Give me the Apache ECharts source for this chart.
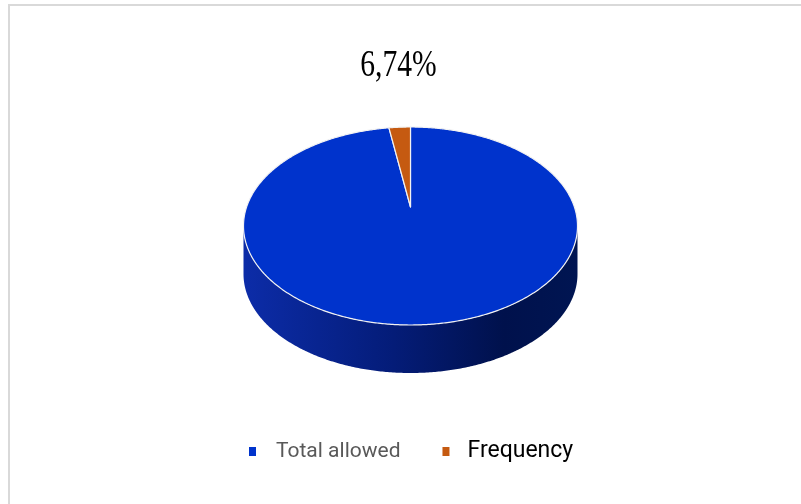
<!DOCTYPE html>
<html>
<head>
<meta charset="utf-8">
<title>Total allowed vs Frequency</title>
<script src="https://cdn.jsdelivr.net/npm/echarts@6/dist/echarts.min.js"></script>
<style>
  html, body { margin: 0; padding: 0; background: #ffffff; }
  #chart { width: 801px; height: 504px; }
</style>
</head>
<body>
<div id="chart"></div>
<script>
// Slice data
const categories = ['Total allowed', 'Frequency'];
const shares = [97.5, 2.5];
const sliceColors = ['#0033cc', '#c55a11'];
const titleText = '6,74%';

// Tilted-disc geometry (perspective projection of a round pie top)
const CX = 410.5, CY = 207;      // projected centre of the disc
const A = 95.35, B = 0.1919;     // vertical scale and perspective factor
const C = 163.9;                 // horizontal scale
const DEPTH = 48;                // thickness of the pie wall
const SIDE_START = 180 - Math.acos(B) * 180 / Math.PI; // left/right silhouette angles
const SIDE_END = 360 - SIDE_START;

const total = shares.reduce((s, v) => s + v, 0);
const offsets = shares.map((_, i) => shares.slice(0, i).reduce((s, v) => s + v, 0));

// angle in degrees, clockwise from 12 o'clock
function project(deg) {
  const r = deg * Math.PI / 180;
  const u = Math.sin(r), v = Math.cos(r), k = 1 + B * v;
  return [CX + C * u / k, CY - A * v / k];
}
function arc(a0, a1) {
  const n = Math.max(2, Math.ceil(Math.abs(a1 - a0) / 0.5));
  const pts = [];
  for (let j = 0; j <= n; j++) pts.push(project(a0 + (a1 - a0) * j / n));
  return pts;
}

function renderSlice(params, api) {
  const i = params.seriesIndex;
  const start = offsets[i] / total * 360;
  const end = start + api.value(0) / total * 360;
  const children = [];

  const s = Math.max(start, SIDE_START), e = Math.min(end, SIDE_END);
  if (s < e) {
    const topEdge = arc(s, e);
    const bottomEdge = topEdge.map(p => [p[0], p[1] + DEPTH]).reverse();
    children.push({
      type: 'polygon',
      z2: 1,
      shape: { points: topEdge.concat(bottomEdge) },
      style: {
        fill: new echarts.graphic.LinearGradient(0, 0, 1, 0, [
          { offset: 0, color: '#0c2ca8' },
          { offset: 0.45, color: '#041c78' },
          { offset: 0.78, color: '#00114c' },
          { offset: 1, color: '#001552' }
        ]),
        stroke: null
      }
    });
  }

  children.push({
    type: 'polygon',
    z2: 5,
    shape: { points: [[CX, CY]].concat(arc(start, end)) },
    style: {
      fill: api.visual('color'),
      stroke: '#f2f2f2',
      lineWidth: 1.2,
      lineJoin: 'round'
    }
  });
  return { type: 'group', children };
}

const chart = echarts.init(document.getElementById('chart'), null, { renderer: 'canvas' });

chart.setOption({
  backgroundColor: '#ffffff',
  animation: false,
  graphic: [
    {
      type: 'rect',
      silent: true,
      shape: { x: 9, y: 5, width: 800, height: 505 },
      style: { fill: null, stroke: '#d9d9d9', lineWidth: 2 }
    },
    {
      type: 'text',
      x: 398.5,
      y: 66,
      scaleX: 0.8,
      style: {
        text: titleText,
        font: '37px "Liberation Serif", "Times New Roman", serif',
        fill: '#000000',
        align: 'center',
        verticalAlign: 'middle',
        textAlign: 'center',
        textVerticalAlign: 'middle'
      }
    }
  ],
  legend: {
    left: 244,
    top: 435,
    icon: 'rect',
    itemWidth: 7,
    itemHeight: 9,
    itemGap: 42,
    data: categories,
    formatter: name => (name === categories[0] ? '{a|' : '{b|') + name + '}',
    textStyle: {
      rich: {
        a: { fontFamily: 'Roboto', fontSize: 21, color: '#595959', padding: [0, 0, 0, 15] },
        b: { fontFamily: 'Roboto', fontSize: 23, color: '#000000', padding: [0, 0, 0, 13] }
      }
    }
  },
  series: categories.map((name, i) => ({
    type: 'custom',
    name: name,
    coordinateSystem: 'none',
    itemStyle: { color: sliceColors[i] },
    renderItem: renderSlice,
    data: [[shares[i]]]
  }))
});
</script>
</body>
</html>
